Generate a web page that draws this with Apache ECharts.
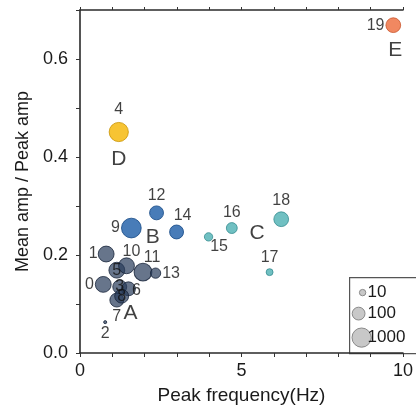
<!DOCTYPE html>
<html><head><meta charset="utf-8">
<script src="https://cdn.jsdelivr.net/npm/echarts@6/dist/echarts.min.js"></script>
<style>html,body{margin:0;padding:0;background:#fff}#c{width:416px;height:410px}</style>
</head><body><div id="c"></div>
<script>
// ---- data ----
const ids    = [0,1,2,3,4,5,6,7,8,9,10,11,12,13,14,15,16,17,18,19];
const freq   = [0.72,0.81,0.78,1.23,1.20,1.14,1.50,1.14,1.29,1.59,1.44,1.95,2.37,2.34,2.99,3.98,4.70,5.87,6.23,9.70];
const ratio  = [0.140,0.202,0.063,0.135,0.451,0.169,0.131,0.108,0.116,0.255,0.178,0.165,0.286,0.163,0.247,0.237,0.255,0.165,0.273,0.669];
const counts = [300,300,3,150,1000,300,150,150,150,1200,300,600,150,40,150,20,50,12,200,200];
const groups = ['A','A','A','A','D','A','A','A','A','B','A','A','B','A','B','C','C','C','C','E'];
const letterNames = ['A','B','C','D','E'];
const letterFreq  = [1.56,2.25,5.48,1.20,9.76];
const letterRatio = [0.082,0.237,0.245,0.396,0.618];
const legendCounts = [10,100,1000];
const xLabels = [0,5,10];
const yLabels = [0,0.2,0.4,0.6];

// ---- styles ----
const groupStyle = {
  A:{color:'rgba(38,58,90,0.88)', border:'#18243a'},
  B:{color:'#1a5ba6', border:'#124683'},
  C:{color:'#4cb0b3', border:'#358c90'},
  D:{color:'#f5b500', border:'#c99400'},
  E:{color:'#ee6a3a', border:'#c9552c'}
};
const labelPos = {
  0:{position:'left',distance:1},
  1:{position:'left',distance:0},
  2:{position:'bottom',distance:1},
  3:{position:'inside'},
  4:{position:'top',distance:4},
  5:{position:'inside'},
  6:{position:'right',distance:0,offset:[-4,2]},
  7:{position:'bottom',distance:1},
  8:{position:'inside'},
  9:{position:'left',distance:1},
  10:{position:'top',distance:0,offset:[5,2]},
  11:{position:'top',distance:0,offset:[9,3]},
  12:{position:'top',distance:2},
  13:{position:'right',distance:1},
  14:{position:'top',distance:1,offset:[6,0]},
  15:{position:'right',distance:1,offset:[-4,10]},
  16:{position:'top',distance:2},
  17:{position:'top',distance:3},
  18:{position:'top',distance:3},
  19:{position:'left',distance:1}
};
const FONT = '"Liberation Sans", Arial, Helvetica, sans-serif';
const sizeOf = n => 6.4*Math.log10(n);

const order = ['A','C','B','D','E'];
const series = order.map(g => ({
  type:'scatter',
  z: 3,
  data: ids.filter(i => groups[i]===g).map(i => ({
    value:[freq[i], ratio[i], counts[i]],
    label: Object.assign({show:true, formatter:String(ids[i])}, labelPos[i])
  })),
  symbolSize: v => sizeOf(v[2]),
  itemStyle:{color:groupStyle[g].color, borderColor:groupStyle[g].border, borderWidth:1},
  label:{color:'#111', fontSize:16, fontFamily:FONT},
  emphasis:{disabled:true}
}));
series.push({
  type:'scatter',
  z: 4,
  symbolSize: 0,
  data: letterNames.map((t,k)=>({value:[letterFreq[k], letterRatio[k]], name:t})),
  label:{show:true, position:'inside', formatter:p=>p.name, color:'#111', fontSize:21, fontFamily:FONT},
  emphasis:{disabled:true}
});

const chart = echarts.init(document.getElementById('c'), null, {renderer:'canvas'});
const axisLine = {onZero:false, lineStyle:{color:'#2a2a2a', width:1.6}};
chart.setOption({
  animation:false,
  grid:{left:80, right:2, top:10, bottom:57},
  xAxis:[{
    type:'value', min:0, max:10, interval:1,
    axisLine:axisLine,
    axisTick:{show:true, length:4, lineStyle:{color:'#333'}},
    axisLabel:{color:'#1a1a1a', fontSize:18, fontFamily:FONT, margin:9,
      formatter:v => xLabels.indexOf(v)>=0 ? String(v) : ''},
    splitLine:{show:false},
    name:'Peak frequency(Hz)', nameLocation:'middle', nameGap:33,
    nameTextStyle:{color:'#1a1a1a', fontSize:19, fontFamily:FONT}
  },{
    type:'value', min:0, max:10, interval:1, position:'top',
    axisLine:axisLine,
    axisTick:{show:true, length:3, lineStyle:{color:'#333'}},
    axisLabel:{show:false}, splitLine:{show:false}
  }],
  yAxis:{
    type:'value', min:0, max:0.7, interval:0.1,
    axisLine:axisLine,
    axisTick:{show:true, length:4, lineStyle:{color:'#333'}},
    axisLabel:{color:'#1a1a1a', fontSize:18, fontFamily:FONT, margin:12,
      formatter:v => yLabels.some(l=>Math.abs(l-v)<1e-6) ? v.toFixed(1) : ''},
    splitLine:{show:false},
    name:'Mean amp / Peak amp', nameLocation:'middle', nameGap:44,
    nameTextStyle:{color:'#1a1a1a', fontSize:18, fontFamily:FONT}
  },
  series:series,
  graphic:[{
    type:'group', left:349, top:277, z:10,
    children:[
      {type:'rect', shape:{x:0,y:0,width:70,height:76}, style:{fill:'#fff', stroke:'#555', lineWidth:1.2}},
    ].concat(legendCounts.flatMap((n,k)=>{
      const cy = [15,36,60][k];
      const cx = [13,9,12][k];
      return [
        {type:'circle', shape:{cx:cx, cy:cy, r:sizeOf(n)/2}, style:{fill:'#c8c8c8', stroke:'#8a8a8a', lineWidth:1}},
        {type:'text', style:{x:18, y:cy, text:String(n), fill:'#1a1a1a', font:'17px '+FONT, textVerticalAlign:'middle', verticalAlign:'middle'}}
      ];
    }))
  }]
});
</script>
</body></html>
